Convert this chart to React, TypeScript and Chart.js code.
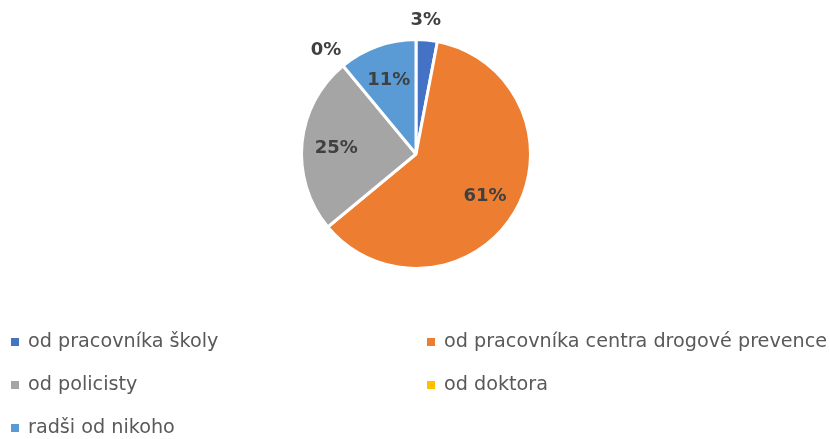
import { useEffect, useRef } from "react";
import { Chart, registerables } from "chart.js";

Chart.register(...registerables);

const categories = [
  "od pracovníka školy",
  "od pracovníka centra drogové prevence",
  "od policisty",
  "od doktora",
  "radši od nikoho",
];
const values = [3, 61, 25, 0, 11];
const valueLabels = ["3%", "61%", "25%", "0%", "11%"];
const colors = ["#4472C4", "#ED7D31", "#A5A5A5", "#FFC000", "#5B9BD5"];

const sliceLabelPlugin = {
  id: "sliceLabels",
  afterDatasetsDraw(chart: any) {
    const ctx = chart.ctx;
    const meta = chart.getDatasetMeta(0);
    ctx.save();
    ctx.font = "bold 18px 'DejaVu Sans'";
    ctx.fillStyle = "#404040";
    ctx.textAlign = "center";
    ctx.textBaseline = "middle";
    meta.data.forEach((arc: any, i: number) => {
      const p = arc.getProps(["x", "y", "startAngle", "endAngle", "outerRadius"], true);
      const mid = (p.startAngle + p.endAngle) / 2;
      const outside = values[i] < 5;
      const r = outside ? p.outerRadius + 22 : p.outerRadius * 0.7;
      ctx.fillText(valueLabels[i], p.x + Math.cos(mid) * r - (outside ? 3 : 0), p.y + Math.sin(mid) * r + 2);
    });
    ctx.restore();
  },
};

const gridLegendPlugin = {
  id: "gridLegend",
  afterDraw(chart: any) {
    const ctx = chart.ctx;
    const colX = [11, 427];
    const rowY = [342, 385, 428];
    ctx.save();
    ctx.font = "19.2px 'DejaVu Sans'";
    ctx.textBaseline = "middle";
    ctx.textAlign = "left";
    categories.forEach((name, i) => {
      const x = colX[i % 2];
      const y = rowY[Math.floor(i / 2)];
      ctx.fillStyle = colors[i];
      ctx.fillRect(x, y - 4, 8, 8);
      ctx.fillStyle = "#595959";
      ctx.fillText(name, x + 17, y);
    });
    ctx.restore();
  },
};

export default function App() {
  const ref = useRef<HTMLCanvasElement>(null);
  useEffect(() => {
    document.body.style.margin = "0";
    const chart = new Chart(ref.current!, {
      type: "pie",
      data: {
        labels: categories,
        datasets: [
          {
            data: values,
            backgroundColor: colors,
            borderColor: "#ffffff",
            borderWidth: 3,
          },
        ],
      },
      options: {
        responsive: false,
        animation: false,
        layout: { padding: { top: 38, bottom: 169, left: 2, right: 0 } },
        plugins: {
          legend: { display: false },
          tooltip: { enabled: false },
        },
      },
      plugins: [sliceLabelPlugin, gridLegendPlugin],
    });
    return () => chart.destroy();
  }, []);
  return (
    <div style={{ width: 830, height: 439, background: "#fff" }}>
      <canvas ref={ref} width={830} height={439} />
    </div>
  );
}
